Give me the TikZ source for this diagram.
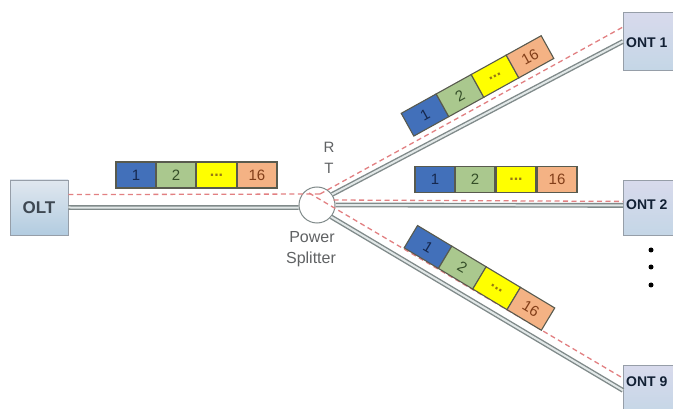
\documentclass[tikz,border=0pt]{standalone}
\usepackage{fontspec}
\setmainfont{Liberation Sans}
\usetikzlibrary{calc}
\definecolor{fblue}{RGB}{66,112,186}
\definecolor{fgreen}{RGB}{170,200,142}
\definecolor{fyellow}{RGB}{255,255,0}
\definecolor{forange}{RGB}{244,178,132}
\definecolor{fborder}{RGB}{88,90,78}
\definecolor{tblue}{RGB}{22,40,78}
\definecolor{tgreen}{RGB}{52,78,40}
\definecolor{tyellow}{RGB}{150,120,20}
\definecolor{torange}{RGB}{130,62,25}
\definecolor{fiberout}{RGB}{128,138,138}
\definecolor{fiberin}{RGB}{226,232,232}
\definecolor{sigred}{RGB}{226,128,130}
\definecolor{boxedge}{RGB}{150,158,168}
\definecolor{olttop}{RGB}{224,231,239}
\definecolor{oltbot}{RGB}{178,204,224}
\definecolor{onttop}{RGB}{216,218,236}
\definecolor{ontbot}{RGB}{196,214,230}
\definecolor{onttext}{RGB}{18,32,52}
\definecolor{olttext}{RGB}{62,72,82}
\definecolor{labgray}{RGB}{96,98,100}
\begin{document}
\begin{tikzpicture}[x=1pt,y=-1pt,
  frame/.style={draw=fborder, line width=1.1pt, minimum width=40pt, minimum height=26pt, inner sep=0pt, font=\fontsize{15}{15}\selectfont},
  fone/.style={frame, fill=fblue, text=tblue},
  ftwo/.style={frame, fill=fgreen, text=tgreen},
  fdots/.style={frame, fill=fyellow, text=tyellow, font=\fontsize{16}{16}\selectfont\bfseries},
  fsix/.style={frame, fill=forange, text=torange},
  fiber/.style={draw=fiberout, line width=1.4pt, double=fiberin, double distance=2pt},
  signal/.style={draw=sigred, line width=1.3pt, dash pattern=on 5pt off 3.5pt},
  oltbox/.style={draw=boxedge, line width=0.8pt, top color=olttop, bottom color=oltbot, minimum width=58pt, minimum height=55pt, inner sep=0pt},
  ontbox/.style={draw=boxedge, line width=0.8pt, top color=onttop, bottom color=ontbot, minimum width=90pt, inner sep=0pt, anchor=north west},
  ontlabel/.style={text=onttext, font=\fontsize{14}{14}\selectfont\bfseries, inner sep=0pt, anchor=west},
  lab/.style={text=labgray, font=\fontsize{15}{15}\selectfont, inner sep=0pt},
  dotnode/.style={circle, fill=black, minimum size=5pt, inner sep=0pt}
]
\clip (0,0) rectangle (673,409);
\fill[white] (0,0) rectangle (673,409);

% boxes
\node[oltbox] (olt) at (39,207.5) {};
\node[text=olttext, font=\fontsize{17}{17}\selectfont\bfseries, inner sep=0pt] (oltlab) at (olt.center) {OLT};
\node[ontbox, minimum height=58pt] (ont1) at (623,12) {};
\node[ontbox, minimum height=55pt] (ont2) at (623,180) {};
\node[ontbox, minimum height=50pt] (ont9) at (623,365) {};
\node[ontlabel] (l1) at (626,43) {ONT 1};
\node[ontlabel] (l2) at (626,205) {ONT 2};
\node[ontlabel] (l9) at (626,382) {ONT 9};

% splitter
\node[circle, draw=fiberout, line width=1pt, fill=white, minimum size=36pt, inner sep=0pt] (ps) at (317,205) {};
\coordinate (hub) at (320,194);
\coordinate (lowstart) at (309,193);

% fibers
\draw[fiber] (olt.east) -- (ps.188);
\draw[fiber] (ps.35) -- (ont1.west);
\draw[fiber] (ps.east) -- ($(ont2.west)+(0,-2.5)$);
\draw[fiber] (ps.-40) -- (ont9.west);

% signal paths
\draw[signal] ($(olt.north east)+(0,15)$) -- (hub);
\draw[signal] (hub) -- ($(ont1.north west)+(0,15)$);
\draw[signal] ($(ps.east)+(-2,-5)$) -- ($(ont2.west)+(0,-6.5)$);
\draw[signal] (lowstart) -- ($(ont9.north west)+(-2,12)$);

% labels at splitter
\node[lab] (lr) at (329,147) {R};
\node[lab] (lt) at (329,168) {T};
\node[lab, font=\fontsize{16}{16}\selectfont] (lp) at (312,237) {Power};
\node[lab, font=\fontsize{16}{16}\selectfont, anchor=base] (ls) at (311,264) {Splitter};

% frames: OLT feeder
\node[fone]  (a1) at (136,175) {1};
\node[ftwo]  (a2) at (176,175) {2};
\node[fdots] (a3) at (216.5,175) {...};
\node[fsix]  (a4) at (257,175) {16};

% frames: ONT 2 branch
\node[fone]  (b1) at (435,179.5) {1};
\node[ftwo]  (b2) at (475,179.5) {2};
\node[fdots] (b3) at (516,179.5) {...};
\node[fsix]  (b4) at (557,179.5) {16};

% frames: ONT 1 branch
\node[fone, rotate=29]  (c1) at (425,115) {1};
\node[ftwo, rotate=29]  (c2) at (460,95.6) {2};
\node[fdots, rotate=29] (c3) at (495,76.2) {...};
\node[fsix, rotate=29]  (c4) at (530,56.8) {16};

% frames: ONT 9 branch
\node[fone, rotate=-31]  (d1) at (428,247) {1};
\node[ftwo, rotate=-31]  (d2) at (462.3,267.6) {2};
\node[fdots, rotate=-31] (d3) at (496.6,288.2) {...};
\node[fsix, rotate=-31]  (d4) at (530.9,308.8) {16};

% dots
\node[dotnode] (dt1) at (651,250) {};
\node[dotnode] (dt2) at (651,267) {};
\node[dotnode] (dt3) at (651,285) {};
\end{tikzpicture}
\end{document}
